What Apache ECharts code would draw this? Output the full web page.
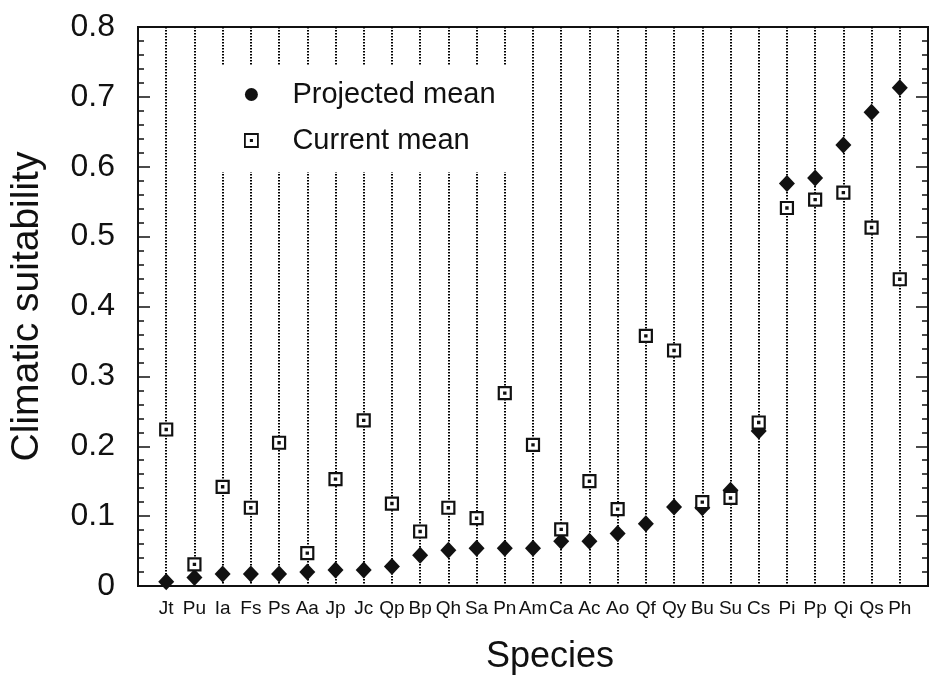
<!DOCTYPE html>
<html>
<head>
<meta charset="utf-8">
<script src="https://cdn.jsdelivr.net/npm/echarts@6/dist/echarts.min.js"></script>
<style>html,body{margin:0;padding:0;background:#fff;}#chart{width:931px;height:680px;}</style>
</head>
<body>
<div id="chart"></div>
<script>
var categories = ['Jt','Pu','Ia','Fs','Ps','Aa','Jp','Jc','Qp','Bp','Qh','Sa','Pn','Am','Ca','Ac','Ao','Qf','Qy','Bu','Su','Cs','Pi','Pp','Qi','Qs','Ph'];
var projectedMean = [0.006,0.012,0.017,0.017,0.017,0.020,0.023,0.023,0.028,0.044,0.051,0.054,0.054,0.054,0.064,0.064,0.075,0.089,0.113,0.112,0.137,0.222,0.576,0.584,0.631,0.678,0.713];
var currentMean = [0.224,0.031,0.142,0.112,0.205,0.047,0.153,0.237,0.118,0.078,0.112,0.097,0.276,0.202,0.081,0.150,0.110,0.358,0.337,0.120,0.126,0.234,0.541,0.553,0.563,0.513,0.439];
var yTicks = [0,0.1,0.2,0.3,0.4,0.5,0.6,0.7,0.8];

var FONT = '"Liberation Sans", Arial, Helvetica, sans-serif';
var squareDot = 'path://M0,0H12V12H0Z M5.4,5.4H6.6V6.6H5.4Z';

function pairs(vals){ return vals.map(function(v,i){ return [i+1, v]; }); }

var chart = echarts.init(document.getElementById('chart'), null, {renderer:'canvas'});
chart.setOption({
  animation: false,
  backgroundColor: '#fff',
  textStyle: {fontFamily: FONT, color: '#111'},
  grid: {left: 133, right: 3, top: 27, bottom: 88, show: true, borderColor: '#111', borderWidth: 2, backgroundColor: 'transparent'},
  legend: {
    orient: 'vertical', left: 205, top: 66,
    padding: [14, 20, 17, 39],
    backgroundColor: '#fff',
    itemWidth: 72, itemHeight: 13, itemGap: 17,
    textStyle: {fontFamily: FONT, fontSize: 29, color: '#111'},
    data: [
      {name: 'Projected mean', icon: 'circle', itemStyle: {color: '#111', borderWidth: 0}},
      {name: 'Current mean', icon: squareDot, itemStyle: {color: '#fff', borderColor: '#111', borderWidth: 1.8}}
    ]
  },
  xAxis: {
    type: 'value', min: 0, max: categories.length + 1, interval: 1,
    name: 'Species', nameLocation: 'middle', nameGap: 53,
    nameTextStyle: {fontFamily: FONT, fontSize: 36, color: '#111', padding: [0,0,0,34]},
    axisLine: {show: true, lineStyle: {color: '#111', width: 2}},
    axisTick: {show: false},
    axisLabel: {
      margin: 13, fontSize: 19, color: '#111', fontFamily: FONT,
      formatter: function(v){ return categories[v-1] || ''; }
    },
    splitLine: {show: true, lineStyle: {color: '#000', width: 2, type: [1.5, 1.5]}}
  },
  yAxis: [{
    type: 'value', min: 0, max: 0.8, interval: 0.1,
    name: 'Climatic suitability', nameLocation: 'middle', nameGap: 91,
    nameTextStyle: {fontFamily: FONT, fontSize: 39, color: '#111'},
    axisLine: {show: true, lineStyle: {color: '#111', width: 2}},
    axisTick: {show: true, inside: true, length: 12, lineStyle: {color: '#111', width: 1.5}},
    minorTick: {show: true, splitNumber: 5, length: 6, lineStyle: {color: '#111', width: 1.5}},
    axisLabel: {margin: 23, fontSize: 32, color: '#111', fontFamily: FONT,
      formatter: function(v){ return v === 0 ? '0' : v.toFixed(1); }},
    splitLine: {show: false}
  },{
    type: 'value', min: 0, max: 0.8, interval: 0.1, position: 'right',
    axisLine: {show: true, lineStyle: {color: '#111', width: 2}},
    axisTick: {show: true, inside: true, length: 12, lineStyle: {color: '#111', width: 1.5}},
    minorTick: {show: true, splitNumber: 5, length: 6, lineStyle: {color: '#111', width: 1.5}},
    axisLabel: {show: false},
    splitLine: {show: false}
  }],
  series: [{
    name: 'Projected mean', type: 'scatter', yAxisIndex: 0,
    symbol: 'diamond', symbolSize: [16, 17],
    itemStyle: {color: '#111', opacity: 1},
    clip: false,
    data: pairs(projectedMean)
  },{
    name: 'Current mean', type: 'scatter', yAxisIndex: 0,
    symbol: squareDot, symbolSize: 12,
    itemStyle: {color: '#fff', borderColor: '#111', borderWidth: 2.2, opacity: 1},
    clip: false,
    data: pairs(currentMean)
  }]
});
</script>
</body>
</html>
